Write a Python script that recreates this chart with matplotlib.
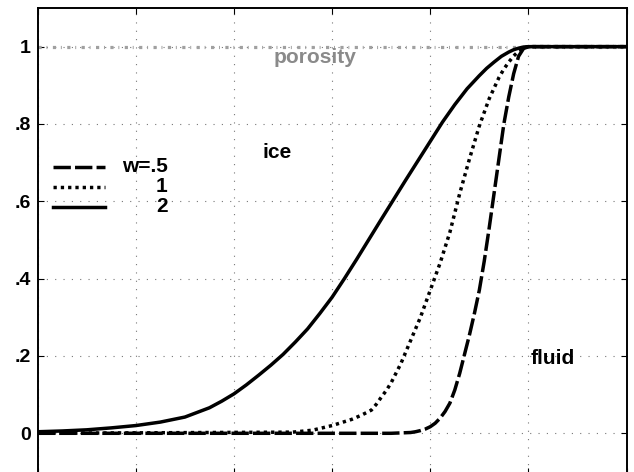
import matplotlib
matplotlib.use('Agg')
import matplotlib.pyplot as plt

plt.rcParams['font.family'] = ['Liberation Sans', 'DejaVu Sans']
plt.rcParams['font.weight'] = 'bold'

# ── Ice fraction profiles for three widths w ──
x_w2 = [0, 0.25, 0.5, 0.75, 1.0, 1.25, 1.5, 1.75, 1.875, 2.0, 2.125, 2.25,
        2.375, 2.5, 2.625, 2.75, 2.875, 3.0, 3.125, 3.25, 3.5, 3.75, 4.0,
        4.125, 4.25, 4.375, 4.5, 4.575, 4.65, 4.725, 4.8, 4.85, 4.9, 4.95,
        5.0, 6.0]
y_w2 = [0.004, 0.006, 0.009, 0.014, 0.020, 0.029, 0.042, 0.066, 0.083, 0.102,
        0.125, 0.150, 0.176, 0.204, 0.236, 0.270, 0.310, 0.352, 0.400, 0.450,
        0.553, 0.655, 0.755, 0.805, 0.850, 0.891, 0.925, 0.944, 0.960, 0.975,
        0.986, 0.992, 0.996, 0.999, 1.0, 1.0]

x_w1 = [0, 2.6, 2.8, 3.0, 3.2, 3.3, 3.4, 3.45, 3.5, 3.55, 3.6, 3.65, 3.7,
        3.75, 3.8, 3.85, 3.9, 4.0, 4.1, 4.2, 4.3, 4.4, 4.5, 4.6, 4.7, 4.75,
        4.8, 4.85, 4.9, 4.95, 5.0, 6.0]
y_w1 = [0, 0.003, 0.008, 0.020, 0.036, 0.047, 0.060, 0.075, 0.093, 0.110,
        0.130, 0.155, 0.180, 0.210, 0.240, 0.270, 0.300, 0.370, 0.440, 0.520,
        0.620, 0.710, 0.795, 0.865, 0.920, 0.942, 0.960, 0.976, 0.988, 0.996,
        1.0, 1.0]

x_w05 = [0, 3.6, 3.8, 3.85, 3.9, 3.95, 4.0, 4.05, 4.1, 4.15, 4.2, 4.25, 4.3,
         4.35, 4.4, 4.45, 4.5, 4.55, 4.6, 4.65, 4.7, 4.75, 4.8, 4.85, 4.9,
         4.95, 5.0, 6.0]
y_w05 = [0, 0, 0.002, 0.004, 0.007, 0.011, 0.017, 0.026, 0.039, 0.056, 0.078,
         0.112, 0.155, 0.205, 0.255, 0.310, 0.370, 0.445, 0.530, 0.620, 0.710,
         0.800, 0.870, 0.930, 0.975, 0.995, 1.0, 1.0]

# porosity level
x_por = [0, 6]
y_por = [1, 1]

yticks = [0, 0.2, 0.4, 0.6, 0.8, 1.0]
ytick_labels = ['0', '.2', '.4', '.6', '.8', '1']
xticks = [0, 1, 2, 3, 4, 5, 6]

legend_labels = ['w=.5', '1', '2']

fig = plt.figure(figsize=(6.34, 4.72), dpi=100)
ax = fig.add_axes([0.0595, -0.004, 0.9287, 0.9871])

ax.plot(x_por, y_por, color='#a0a0a0', lw=2.3,
        linestyle=(0, (1.0, 1.5, 0.3, 1.7)), zorder=2)

styles = [(0, (5.0, 1.2)), (0, (0.95, 1.15)), '-']
ax.plot(x_w05, y_w05, color='black', lw=2.5, linestyle=styles[0], zorder=3)
ax.plot(x_w1, y_w1, color='black', lw=2.5, linestyle=styles[1], zorder=3)
ax.plot(x_w2, y_w2, color='black', lw=2.5, linestyle=styles[2], zorder=3)

# hand-placed legend, labels right-aligned
rows = [0.659, 0.616, 0.573]
for yy, ls, lab in zip(rows, styles, legend_labels):
    ax.plot([0.026, 0.114], [yy, yy], transform=ax.transAxes, color='black',
            lw=2.5, linestyle=ls, zorder=3)
    ax.text(0.221, yy, lab, transform=ax.transAxes, ha='right', va='center',
            fontsize=15, fontweight='bold')

ax.text(2.826, 0.957, 'porosity', color='#8a8a8a', fontsize=15,
        fontweight='bold', ha='center', va='baseline')
ax.text(2.444, 0.711, 'ice', color='black', fontsize=15,
        fontweight='bold', ha='center', va='baseline')
ax.text(5.024, 0.178, 'fluid', color='black', fontsize=15,
        fontweight='bold', ha='left', va='baseline')

ax.set_xlim(0, 6)
ax.set_ylim(-0.105, 1.1)
ax.set_xticks(xticks)
ax.set_yticks(yticks)
ax.set_yticklabels(ytick_labels)
ax.tick_params(direction='in', length=4.5, width=0.8, top=True, right=True,
               labelsize=14, pad=5)
ax.tick_params(axis='x', labelbottom=False)
ax.grid(True, color='#777777', linestyle=(0, (1, 6.5)), linewidth=0.8)
ax.set_axisbelow(True)
for s in ax.spines.values():
    s.set_linewidth(1.4)

fig.savefig('out.png', dpi=100)
